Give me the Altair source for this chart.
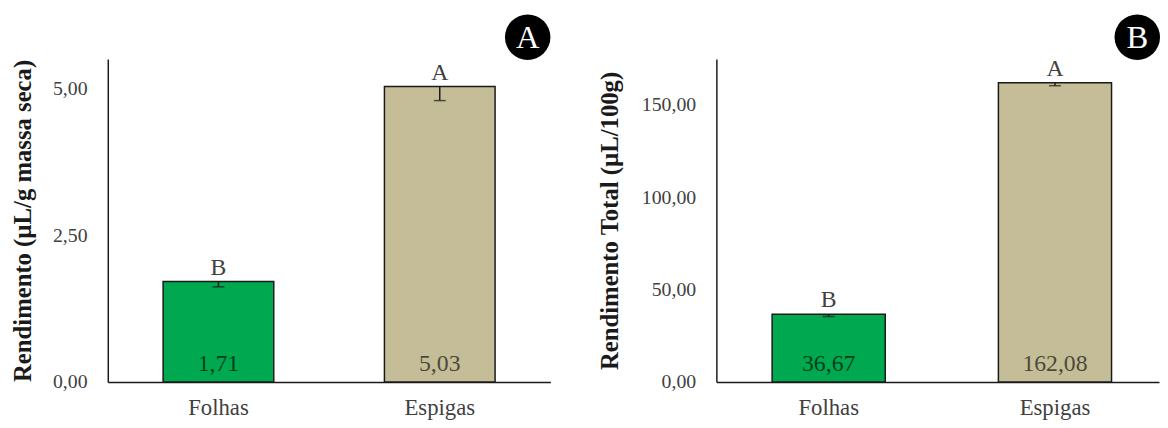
import altair as alt
import pandas as pd

categories = ["Folhas", "Espigas"]
letters = ["B", "A"]
bar_colors = ["#00A84F", "#C4BD97"]

yield_dry = [1.71, 5.03]
yield_dry_err = [0.09, 0.24]
yield_total = [36.67, 162.08]
yield_total_err = [1.2, 1.6]

ticks_a = [0, 2.5, 5]
ticks_b = [0, 50, 100, 150]
badges = ["A", "B"]

FONT = "Liberation Serif"
H = 327
FMT = "replace(format(datum.value, '.2f'), '.', ',')"


def panel(values, errs, ticks, ymax, title, badge, badge_x, width, t_pad, p_outer, align):
    df = pd.DataFrame({"cat": categories, "val": values, "err": errs,
                       "letter": letters, "color": bar_colors})
    base = alt.Chart(df).transform_calculate(
        lo="datum.val - datum.err",
        zero="0",
        lbl="replace(format(datum.val, '.2f'), '.', ',')",
    )
    x = alt.X("cat:N", sort=categories,
              scale=alt.Scale(paddingInner=0.5, paddingOuter=p_outer, align=align),
              axis=alt.Axis(title=None, labelAngle=0, ticks=False, labelPadding=15,
                            labelFontSize=23, labelFont=FONT, labelColor="#404040",
                            domainColor="#1a1a1a", domainWidth=1.5))

    def Y(field):
        return alt.Y(field, type="quantitative",
                     scale=alt.Scale(domain=[0, ymax], nice=False, zero=True),
                     axis=alt.Axis(title=title, values=ticks, grid=False, ticks=False,
                                   labelPadding=21, labelFontSize=20, labelFont=FONT,
                                   labelColor="#404040", labelExpr=FMT,
                                   titleFont=FONT, titleFontSize=25, titleFontWeight="bold",
                                   titleColor="#1a1a1a", titlePadding=t_pad,
                                   domainColor="#1a1a1a", domainWidth=1.5))

    bars = base.mark_bar(stroke="#1a1a1a", strokeWidth=1.5).encode(
        x=x, y=Y("val"), color=alt.Color("color:N", scale=None))
    err_rule = base.mark_rule(color="#1a1a1a", strokeWidth=1.5).encode(
        x=x, y=Y("val"), y2="lo:Q")
    err_cap = base.mark_tick(color="#1a1a1a", thickness=1.5, size=12).encode(
        x=x, y=Y("lo"))
    let = base.mark_text(font=FONT, fontSize=24, color="#404040",
                         baseline="alphabetic", dy=-7).encode(
        x=x, y=Y("val"), text="letter:N")
    vals = base.mark_text(font=FONT, fontSize=24, color="#000000", opacity=0.62,
                          baseline="alphabetic", dy=-11).encode(
        x=x, y=Y("zero"), text="lbl:N")

    bdf = pd.DataFrame({"b": [badge]})
    circ = alt.Chart(bdf).mark_point(filled=True, shape="circle", size=46 * 46,
                                     color="#000000", opacity=1).encode(
        x=alt.value(badge_x), y=alt.value(-22))
    btxt = alt.Chart(bdf).mark_text(font=FONT, fontSize=33, color="white",
                                    align="center", baseline="middle", dy=1).encode(
        x=alt.value(badge_x), y=alt.value(-22), text="b:N")

    return alt.layer(bars, err_rule, err_cap, let, vals, circ, btxt).properties(
        width=width, height=H)


pa = panel(yield_dry, yield_dry_err, ticks_a, 5.5,
           "Rendimento (µL/g massa seca)", badges[0], 425, 448, 17, 0.25, 0.5)
pb = panel(yield_total, yield_total_err, ticks_b, 175,
           "Rendimento Total (µL/100g)", badges[1], 426, 448, 19, 0.228, 0.54)

chart = alt.hconcat(pa, pb, spacing=48).properties(
    padding={"left": 3, "top": 4, "right": 0, "bottom": 0},
    background="white",
).configure_view(stroke=None)

chart.save("out.html", embed_options={"renderer": "svg", "actions": False})
